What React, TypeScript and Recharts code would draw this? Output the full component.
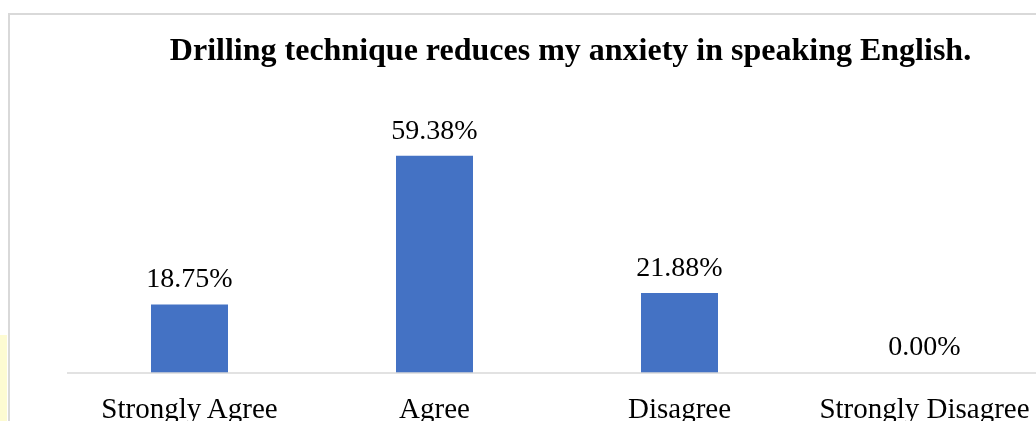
import { Bar, BarChart, Cell, LabelList, XAxis, YAxis } from "recharts";

const categories = ["Strongly Agree", "Agree", "Disagree", "Strongly Disagree"];
const percents = [18.75, 59.38, 21.88, 0.0];

const data = categories.map((name, i) => ({ name, value: percents[i] }));

const FONT = '"Times New Roman", "Liberation Serif", serif';

export default function App() {
  return (
    <div style={{ position: "fixed", left: 8, top: 8, width: 1028, height: 413, overflow: "hidden" }}>
      {/* faint highlighter mark on the page edge */}
      <div
        style={{
          position: "fixed",
          left: 0,
          top: 335,
          width: 7,
          height: 86,
          background: "#fdfbd2",
        }}
      />
      <div
        style={{
          position: "absolute",
          left: 0,
          top: 5,
          width: 1200,
          height: 600,
          border: "2px solid #d9d9d9",
          boxSizing: "border-box",
        }}
      />
      <div
        style={{
          position: "absolute",
          left: 0,
          top: 24.5,
          width: 1125,
          textAlign: "center",
          fontFamily: FONT,
          fontWeight: "bold",
          fontSize: 32,
          lineHeight: 1,
          color: "#000",
          whiteSpace: "nowrap",
        }}
      >
        Drilling technique reduces my anxiety in speaking English.
      </div>
      <div style={{ position: "absolute", left: 0, top: 0 }}>
        <BarChart
          width={1100}
          height={460}
          data={data}
          margin={{ top: 109, right: 61, left: 59, bottom: 0 }}
        >
          <XAxis
            dataKey="name"
            height={95}
            axisLine={{ stroke: "#d9d9d9", strokeWidth: 1.5 }}
            tickLine={false}
            tickSize={0}
            tickMargin={24}
            tick={{ fill: "#000", fontSize: 29, fontFamily: FONT }}
            interval={0}
          />
          <YAxis hide domain={[0, 70]} />
          <Bar
            dataKey="value"
            fill="#4472c4"
            barSize={77}
            minPointSize={1}
            isAnimationActive={false}
          >
            {data.map((d) => (
              <Cell key={d.name} fill={d.value > 0 ? "#4472c4" : "transparent"} />
            ))}
            <LabelList
              dataKey="value"
              position="top"
              offset={17}
              formatter={(v: number) => `${Number(v).toFixed(2)}%`}
              style={{ fill: "#000", fontSize: 28, fontFamily: FONT }}
            />
          </Bar>
        </BarChart>
      </div>
    </div>
  );
}
